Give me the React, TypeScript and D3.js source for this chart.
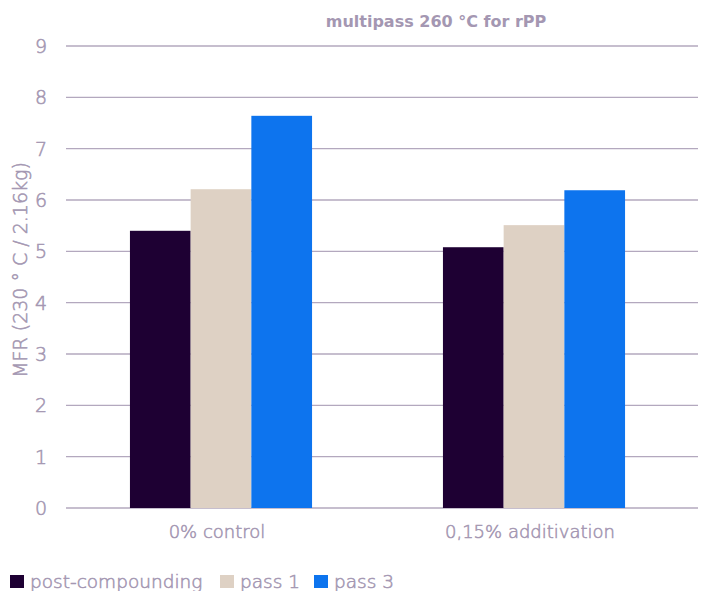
import React from "react"
import * as d3 from "d3"

const categories = ["0% control", "0,15% additivation"]
const seriesNames = ["post-compounding", "pass 1", "pass 3"]
const seriesColors = ["#1e0033", "#ded1c4", "#0d74ee"]
const values: number[][] = [
    [5.4, 5.08],
    [6.21, 5.51],
    [7.64, 6.19],
]
const yTicks = [0, 1, 2, 3, 4, 5, 6, 7, 8, 9]

const width = 702
const height = 591
const textColor = "#a497b2"
const gridColor = "#b3a8be"
const font = "'DejaVu Sans', sans-serif"

// thin face plus a hairline stroke, to get close to the light-ish weight of the original
const lightText = {fontWeight: 200, fill: textColor, stroke: textColor, strokeWidth: 0.55}

const App = () => {
    const y = d3.scaleLinear().domain([0, 9]).range([508, 46])
    const x0 = d3.scaleBand().domain(categories).range([64.5, 690.5])
    const barW = 60.7
    const groupW = barW * seriesNames.length
    const x1 = d3.scaleBand().domain(seriesNames).range([0, groupW])

    const legendX = [10, 220, 314]

    return (
        <svg width={width} height={height} style={{position: "absolute", left: 0, top: 0}}
             fontFamily={font}>
            <text x={436} y={27} textAnchor="middle" fontSize={16} fontWeight={700} fill={textColor}>
                multipass 260 °C for rPP
            </text>
            {yTicks.map(t => (
                <g key={t}>
                    <line x1={66} x2={698} y1={y(t)} y2={y(t)} stroke={gridColor} strokeWidth={1.3}/>
                    <text x={47} y={y(t)} dy="0.36em" textAnchor="end" fontSize={19} {...lightText}>{t}</text>
                </g>
            ))}
            <text transform={`translate(27,${(y(0) + y(9)) / 2 - 7}) rotate(-90)`} textAnchor="middle"
                  fontSize={19} {...lightText}>MFR (230 ° C / 2.16kg)</text>
            {categories.map((c, ci) => {
                const gx = (x0(c) as number) + x0.bandwidth() / 2 - groupW / 2
                return (
                    <g key={c}>
                        {seriesNames.map((s, si) => (
                            <rect key={s} x={gx + (x1(s) as number)} width={x1.bandwidth()}
                                  y={y(values[si][ci])} height={y(0) - y(values[si][ci])}
                                  fill={seriesColors[si]}/>
                        ))}
                        <text x={(x0(c) as number) + x0.bandwidth() / 2 - 4} y={538} textAnchor="middle"
                              fontSize={18} {...lightText}>{c}</text>
                    </g>
                )
            })}
            {seriesNames.map((s, si) => (
                <g key={s} transform={`translate(${legendX[si]},575)`}>
                    <rect width={14} height={13} fill={seriesColors[si]}/>
                    <text x={20} y={13} fontSize={18.5} {...lightText}>{s}</text>
                </g>
            ))}
        </svg>
    )
}

export default App
